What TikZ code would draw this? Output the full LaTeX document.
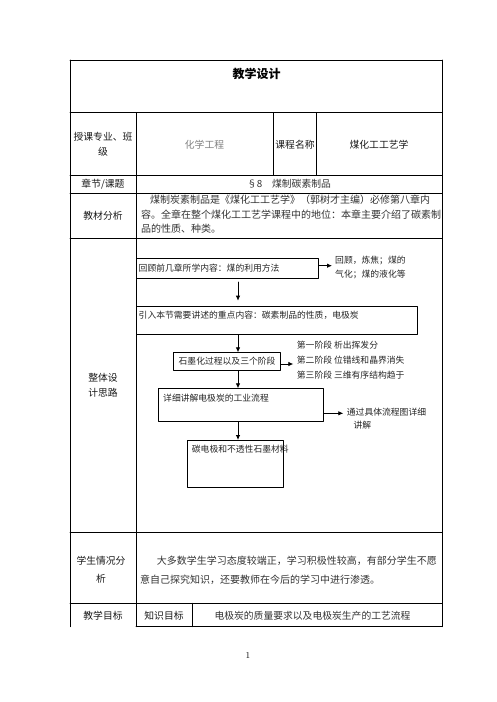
\documentclass[tikz,border=0pt]{standalone}
\usepackage{fontspec}
\usetikzlibrary{arrows.meta}
\newfontfamily\cjk{Noto Sans CJK SC}
\begin{document}
\begin{tikzpicture}[line cap=round,line join=round,x=1pt,y=-1pt,
  cell/.style={font=\cjk\fontsize{9.8}{15}\selectfont,text=black!90,inner sep=0pt,align=center},
  body/.style={font=\cjk\fontsize{10}{12}\selectfont,text=black!80,inner sep=0pt,anchor=west},
  flow/.style={font=\cjk\fontsize{8.8}{13.6}\selectfont,text=black!85,inner sep=0pt,align=left},
  box/.style={draw,line width=0.8pt,inner sep=0pt,anchor=north west},
  arr/.style={-{Latex[length=5pt,width=4.5pt]},line width=0.8pt}]
\fill[white] (0,0) rectangle (496,702);
\useasboundingbox (0,0) rectangle (496,702);
% table
\begin{scope}[line width=0.8pt]
	\draw (70,60) -- (442,60);
	\draw (70,112.5) -- (442,112.5);
	\draw (70,175) -- (442,175);
	\draw (70,193) -- (442,193);
	\draw (70,238.5) -- (442,238.5);
	\draw (70,532.3) -- (442,532.3);
	\draw (70,603.3) -- (442,603.3);
	\draw (136,626.7) -- (442,626.7);
	\draw (70,60) -- (70,626.7);
	\draw (442,60) -- (442,626.7);
	\draw (136,112.5) -- (136,626.7);
	\draw (273.3,112.5) -- (273.3,175);
	\draw (316.7,112.5) -- (316.7,175);
	\draw (192.7,603.3) -- (192.7,626.7);
\end{scope}
% header rows
\node[cell,font=\cjk\bfseries\fontsize{12}{14}\selectfont,text=black] (title) at (256.5,73.5) {教学设计};
\node[cell] (major) at (103,144) {授课专业、班\\级};
\node[cell,text=black!50] (majorval) at (204.5,145) {化学工程};
\node[cell] (course) at (295,145) {课程名称};
\node[cell] (courseval) at (379,145) {煤化工工艺学};
\node[cell] (chapter) at (103,184) {章节/课题};
\node[cell,text=black!80] (chapterval) at (289,184) {§8\quad 煤制碳素制品};
\node[cell] (book) at (103,216) {教材分析};
\node[body] (book1) at (150,200) {煤制炭素制品是《煤化工工艺学》（郭树才主编）必修第八章内};
\node[body] (book2) at (141,214.5) {容。全章在整个煤化工工艺学课程中的地位：本章主要介绍了碳素制};
\node[body] (book3) at (141,229) {品的性质、种类。};
% design flow
\node[cell] (plan) at (103,385) {整体设\\计思路};
\node[box,minimum width=182pt,minimum height=20pt] (box1) at (136,258.3) {};
\node[flow,anchor=west] (box1txt) at (138.5,268.3) {回顾前几章所学内容：煤的利用方法};
\node[box,minimum width=281.3pt,minimum height=28.6pt] (box2) at (136,305.7) {};
\node[flow,anchor=west] (box2txt) at (138.5,315) {引入本节需要讲述的重点内容：碳素制品的性质，电极炭};
\node[box,minimum width=106.7pt,minimum height=17.7pt] (box3) at (173.3,352.3) {};
\node[flow] (box3txt) at (box3.center) {石墨化过程以及三个阶段};
\node[box,minimum width=164.4pt,minimum height=32.7pt] (box4) at (158.3,388.3) {};
\node[flow,anchor=west] (box4txt) at (163,397.7) {详细讲解电极炭的工业流程};
\node[box,minimum width=96pt,minimum height=46.7pt] (box5) at (186.7,440) {};
\node[flow,anchor=west] (box5txt) at (191.7,449.3) {碳电极和不透性石墨材料};
\node[flow,anchor=west] (note1) at (335,267.5) {回顾，炼焦；煤的\\气化；煤的液化等};
\node[flow,anchor=west,font=\cjk\fontsize{8.8}{15}\selectfont] (note3) at (296.7,360.5) {第一阶段 析出挥发分\\第二阶段 位错线和晶界消失\\第三阶段 三维有序结构趋于};
\node[flow,anchor=north west] (note4) at (346.7,407.5) {通过具体流程图详细\\\hspace*{6.6pt}讲解};
\coordinate (a1) at (332,265.7);
\coordinate (a3) at (293.3,364);
\coordinate (a4) at (343.3,413.3);
\coordinate (ax) at (238,0);
\draw[arr] (box1.east |- a1) -- (a1);
\draw[arr] (box3.east |- a3) -- (a3);
\draw[arr] (box4.east |- a4) -- (a4);
\draw[arr,shorten <=3pt,shorten >=5pt] (box1.south -| ax) -- (box2.north -| ax);
\draw[arr] (box2.south -| ax) -- (box3.north -| ax);
\draw[arr] (box3.south -| ax) -- (box4.north -| ax);
\draw[arr] (box4.south -| ax) -- (box5.north -| ax);
% student row
\node[cell,font=\cjk\fontsize{9.8}{18}\selectfont] (student) at (101,570) {学生情况分\\析};
\node[body] (student1) at (156.7,561) {大多数学生学习态度较端正，学习积极性较高，有部分学生不愿};
\node[body] (student2) at (140,579.3) {意自己探究知识，还要教师在今后的学习中进行渗透。};
% goal row
\node[cell] (goal) at (103,615.5) {教学目标};
\node[cell] (know) at (164,615.5) {知识目标};
\node[cell,text=black!80] (knowval) at (312.5,615.5) {电极炭的质量要求以及电极炭生产的工艺流程};
\node[font=\fontsize{9}{11}\selectfont,inner sep=0pt] (page) at (248,655) {1};
\end{tikzpicture}
\end{document}
